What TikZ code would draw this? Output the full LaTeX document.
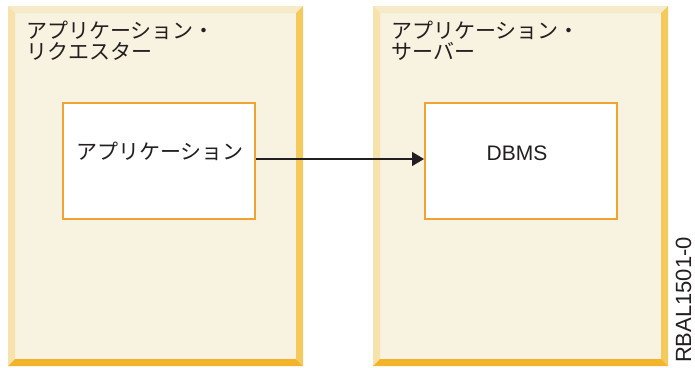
\documentclass[tikz,border=0pt]{standalone}
\usepackage{fontspec}
\setmainfont{Liberation Sans}
\newfontfamily\jpfont{Noto Sans CJK JP}
\usetikzlibrary{arrows.meta}
\definecolor{panelfill}{RGB}{248,242,224}
\definecolor{beveltop}{RGB}{246,234,200}
\definecolor{bevelleft}{RGB}{247,226,172}
\definecolor{bevelright}{RGB}{245,202,92}
\definecolor{bevelbottom}{RGB}{243,180,42}
\definecolor{boxorange}{RGB}{240,162,50}
\definecolor{inkdark}{RGB}{35,31,32}
\tikzset{
  jptext/.style={font=\jpfont\fontsize{21}{22}\selectfont, text=inkdark, inner sep=0pt, anchor=base west},
  appbox/.style={draw=boxorange, line width=2pt, fill=white, minimum width=192pt, minimum height=116pt, inner sep=0pt, anchor=north west},
  flow/.style={draw=inkdark, line width=1.3pt, -{Triangle[length=12pt,width=14pt]}}
}
\newcommand{\bevelpanel}[1]{%
  \fill[panelfill] (#1+7,13) rectangle (#1+288,359);
  \fill[beveltop] (#1,6) -- (#1+295,6) -- (#1+288,13) -- (#1+7,13) -- cycle;
  \fill[bevelleft] (#1,6) -- (#1+7,13) -- (#1+7,359) -- (#1,366) -- cycle;
  \fill[bevelright] (#1+295,6) -- (#1+295,366) -- (#1+288,359) -- (#1+288,13) -- cycle;
  \fill[bevelbottom] (#1,366) -- (#1+295,366) -- (#1+288,359) -- (#1+7,359) -- cycle;
}
\begin{document}
\begin{tikzpicture}[x=1pt,y=-1pt]
\useasboundingbox[fill=white] (0,0) rectangle (695,367);
\bevelpanel{8}
\bevelpanel{373}
\node[jptext] (reqa) at (26,38.5) {アプリケーション・};
\node[jptext] (reqb) at (26,59) {リクエスター};
\node[jptext] (srva) at (391,38.5) {アプリケーション・};
\node[jptext] (srvb) at (391,59) {サーバー};
\node[appbox] (app) at (62,102) {};
\node[appbox] (dbms) at (424,102) {};
\node[font=\jpfont\fontsize{21}{22}\selectfont, text=inkdark, inner sep=0pt, anchor=base] (applbl) at (160,159) {アプリケーション};
\node[font=\fontsize{21}{24}\selectfont, text=inkdark, inner sep=0pt, anchor=base] (dbmslbl) at (517,160) {DBMS};
\draw[flow] ([yshift=2pt]app.east) -- ([yshift=2pt]dbms.west);
\node[font=\fontsize{22}{24}\selectfont, text=inkdark, inner sep=0pt, rotate=90, anchor=base] (figid) at (691,300) {RBAL1501-0};
\end{tikzpicture}
\end{document}
